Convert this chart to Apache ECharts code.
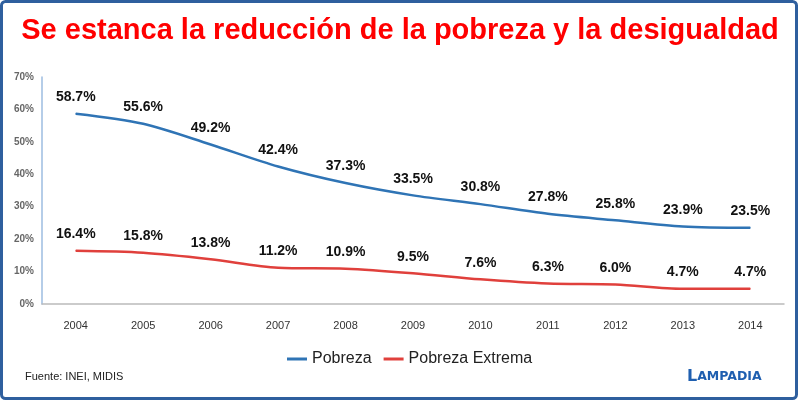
<!DOCTYPE html>
<html><head><meta charset="utf-8">
<script src="https://cdn.jsdelivr.net/npm/echarts@6/dist/echarts.min.js"></script>
<style>html,body{margin:0;padding:0;background:#fff}#c{width:800px;height:402px}</style>
</head><body><div id="c"></div>
<script>
const years = ['2004','2005','2006','2007','2008','2009','2010','2011','2012','2013','2014'];
const pobreza = [58.7,55.6,49.2,42.4,37.3,33.5,30.8,27.8,25.8,23.9,23.5];
const pobrezaExtrema = [16.4,15.8,13.8,11.2,10.9,9.5,7.6,6.3,6.0,4.7,4.7];
const yTicks = [0,10,20,30,40,50,60,70];

const chart = echarts.init(document.getElementById('c'));
const lbl = {show:true, position:'top', distance:9, formatter:p=>p.value.toFixed(1)+'%',
  fontFamily:'Liberation Sans', fontWeight:'bold', fontSize:14, color:'#111'};
chart.setOption({
  animation:false,
  title:{text:'Se estanca la reducción de la pobreza y la desigualdad', left:'center', top:11,
    textStyle:{color:'#ff0000', fontFamily:'Liberation Sans', fontWeight:'bold', fontSize:29}},
  graphic:[
    {type:'rect', shape:{x:1.5,y:1.5,width:795,height:397,r:4}, style:{fill:null, stroke:'#2f5f9e', lineWidth:3}},
    {type:'text', left:25, top:371, style:{text:'Fuente: INEI, MIDIS', font:'11px Liberation Sans', fill:'#222'}},
    {type:'text', left:687, top:369, style:{text:'{a|L}{b|AMPADIA}', rich:{a:{fontSize:16,fontWeight:'bold',fill:'#1f5fb0',fontFamily:'DejaVu Sans'},b:{fontSize:12.5,fontWeight:'bold',fill:'#1f5fb0',fontFamily:'DejaVu Sans'}}}}
  ],
  legend:{data:['Pobreza','Pobreza Extrema'], left:282, top:346, itemWidth:20, itemHeight:3, itemGap:12,
    icon:'rect', textStyle:{fontFamily:'Liberation Sans', fontSize:16, color:'#222'}},
  grid:{left:42, right:16, top:77, bottom:98},
  xAxis:{type:'category', data:years, boundaryGap:true,
    axisLine:{lineStyle:{color:'#bbbbbb', width:1.5}}, axisTick:{show:false},
    axisLabel:{margin:16, fontFamily:'Liberation Sans', fontSize:11, color:'#333'}},
  yAxis:{type:'value', min:0, max:70, interval:10,
    axisLine:{show:true, lineStyle:{color:'#9dbce0', width:1.5}}, axisTick:{show:false}, splitLine:{show:false},
    axisLabel:{formatter:v=>yTicks.includes(v)?v+'%':'', margin:8, fontFamily:'Liberation Sans', fontSize:10, fontWeight:'bold', color:'#666'}},
  series:[
    {name:'Pobreza', type:'line', data:pobreza, smooth:0.3, symbol:'circle', symbolSize:1, showSymbol:true, lineStyle:{color:'#2f74b5', width:2.5}, itemStyle:{color:'#2f74b5'}, label:lbl},
    {name:'Pobreza Extrema', type:'line', data:pobrezaExtrema, smooth:0.3, symbol:'circle', symbolSize:1, showSymbol:true, lineStyle:{color:'#e0403c', width:2.5}, itemStyle:{color:'#e0403c'}, label:lbl}
  ]
});
</script></body></html>
